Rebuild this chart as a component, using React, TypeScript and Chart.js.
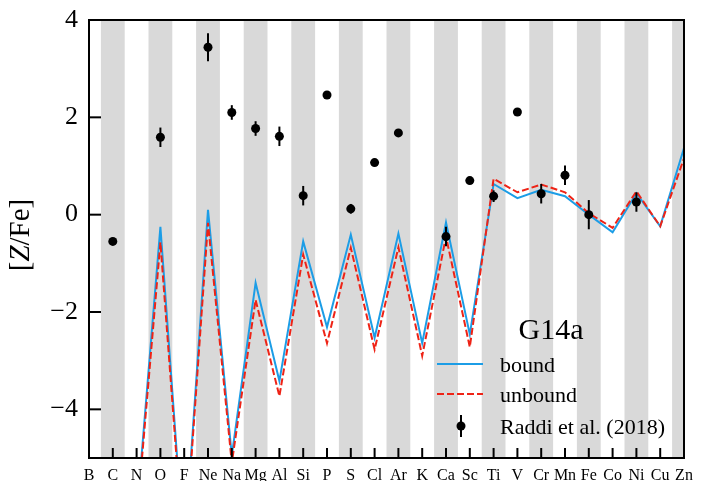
import React, { useEffect, useRef } from "react";
import { Chart, registerables } from "chart.js";

Chart.register(...registerables);

const elements = ["B", "C", "N", "O", "F", "Ne", "Na", "Mg", "Al", "Si", "P", "S", "Cl", "Ar", "K", "Ca", "Sc", "Ti", "V", "Cr", "Mn", "Fe", "Co", "Ni", "Cu", "Zn"];

const boundValues = [-8, -7.5, -6.2, -0.25, -7.0, 0.1, -4.95, -1.4, -3.42, -0.55, -2.31, -0.41, -2.53, -0.39, -2.64, -0.16, -2.46, 0.63, 0.34, 0.51, 0.38, 0.0, -0.36, 0.44, -0.24, 1.37];
const unboundValues = [-8, -7.5, -6.3, -0.57, -7.1, -0.17, -5.1, -1.75, -3.73, -0.82, -2.64, -0.68, -2.77, -0.67, -2.9, -0.45, -2.72, 0.74, 0.46, 0.62, 0.46, 0.03, -0.27, 0.48, -0.24, 1.16];

// Raddi et al. (2018): element index, value, error
const obsIndex = [1, 3, 5, 6, 7, 8, 9, 10, 11, 12, 13, 15, 16, 17, 18, 19, 20, 21, 23];
const obsValues = [-0.55, 1.59, 3.44, 2.1, 1.77, 1.61, 0.39, 2.46, 0.12, 1.07, 1.68, -0.45, 0.7, 0.38, 2.11, 0.43, 0.81, 0.0, 0.26];
const obsErrors = [0, 0.2, 0.29, 0.15, 0.15, 0.2, 0.2, 0, 0.1, 0, 0, 0.2, 0, 0.12, 0, 0.2, 0.2, 0.3, 0.2];

const yTicks = [-4, -2, 0, 2, 4];

const BLUE = "#1c9de6";
const RED = "#ee2316";
const GRAY = "#d9d9d9";
const SERIF = "'Liberation Serif', 'DejaVu Serif', serif";

const decorPlugin = {
  id: "decor",
  beforeDatasetsDraw(chart: any) {
    const { ctx, chartArea: a, scales } = chart;
    const xs = scales.x;
    ctx.save();
    ctx.fillStyle = GRAY;
    for (let i = 1; i < elements.length; i += 2) {
      const l = Math.max(a.left, xs.getPixelForValue(i - 0.5));
      const r = Math.min(a.right, xs.getPixelForValue(i + 0.5));
      ctx.fillRect(l, a.top, r - l, a.bottom - a.top);
    }
    ctx.restore();
  },
  afterDatasetsDraw(chart: any) {
    const { ctx, chartArea: a, scales } = chart;
    const xs = scales.x;
    const ys = scales.y;
    ctx.save();
    ctx.strokeStyle = "#000";
    ctx.lineWidth = 2;
    for (let k = 0; k < obsIndex.length; k++) {
      const e = obsErrors[k];
      if (!e) continue;
      const px = xs.getPixelForValue(obsIndex[k]);
      ctx.beginPath();
      ctx.moveTo(px, ys.getPixelForValue(obsValues[k] - e));
      ctx.lineTo(px, ys.getPixelForValue(obsValues[k] + e));
      ctx.stroke();
    }
    ctx.lineWidth = 2;
    ctx.strokeRect(a.left, a.top, a.right - a.left, a.bottom - a.top);
    for (let i = 0; i < elements.length; i++) {
      const px = xs.getPixelForValue(i);
      ctx.beginPath();
      ctx.moveTo(px, a.bottom);
      ctx.lineTo(px, a.bottom - 10);
      ctx.stroke();
    }
    for (const v of yTicks) {
      const py = ys.getPixelForValue(v);
      ctx.beginPath();
      ctx.moveTo(a.left, py);
      ctx.lineTo(a.left + 12, py);
      ctx.stroke();
    }
    // y title [Z/Fe]
    ctx.save();
    ctx.translate(29, 235);
    ctx.rotate(-Math.PI / 2);
    ctx.fillStyle = "#000";
    ctx.textBaseline = "alphabetic";
    const parts: [string, string][] = [["[", ""], ["Z", "italic "], ["/Fe]", ""]];
    let total = 0;
    const widths: number[] = [];
    for (const [t, st] of parts) {
      ctx.font = `${st}29px ${SERIF}`;
      const w = ctx.measureText(t).width;
      widths.push(w);
      total += w;
    }
    let cx = -total / 2;
    parts.forEach(([t, st], idx) => {
      ctx.font = `${st}29px ${SERIF}`;
      ctx.fillText(t, cx, 0);
      cx += widths[idx];
    });
    ctx.restore();
    // legend
    ctx.fillStyle = "#000";
    ctx.font = `30px ${SERIF}`;
    ctx.textAlign = "center";
    ctx.fillText("G14a", 551, 339);
    ctx.textAlign = "left";
    ctx.font = `22px ${SERIF}`;
    ctx.lineWidth = 2;
    ctx.strokeStyle = BLUE;
    ctx.beginPath();
    ctx.moveTo(437, 364);
    ctx.lineTo(483, 364);
    ctx.stroke();
    ctx.strokeStyle = RED;
    ctx.setLineDash([7, 3]);
    ctx.beginPath();
    ctx.moveTo(437, 394);
    ctx.lineTo(483, 394);
    ctx.stroke();
    ctx.setLineDash([]);
    ctx.strokeStyle = "#000";
    ctx.beginPath();
    ctx.moveTo(461, 415);
    ctx.lineTo(461, 437);
    ctx.stroke();
    ctx.beginPath();
    ctx.arc(461, 426, 4.5, 0, Math.PI * 2);
    ctx.fill();
    ctx.fillText("bound", 500, 372);
    ctx.fillText("unbound", 500, 402);
    ctx.fillText("Raddi et al. (2018)", 500, 434);
    ctx.restore();
  },
};

export default function App() {
  const ref = useRef<HTMLCanvasElement>(null);
  useEffect(() => {
    if (!ref.current) return;
    const chart = new Chart(ref.current, {
      type: "line",
      data: {
        datasets: [
          {
            label: "Raddi et al. (2018)",
            data: obsIndex.map((i, k) => ({ x: i, y: obsValues[k] })),
            showLine: false,
            pointRadius: 4.5,
            pointBackgroundColor: "#000",
            pointBorderColor: "#000",
            pointBorderWidth: 0,
          },
          {
            label: "unbound",
            data: unboundValues.map((v, i) => ({ x: i, y: v })),
            borderColor: RED,
            borderWidth: 2,
            borderDash: [7, 3],
            pointRadius: 0,
            tension: 0,
            fill: false,
          },
          {
            label: "bound",
            data: boundValues.map((v, i) => ({ x: i, y: v })),
            borderColor: BLUE,
            borderWidth: 2,
            pointRadius: 0,
            tension: 0,
            fill: false,
          },
        ],
      },
      options: {
        animation: false,
        responsive: false,
        events: [],
        layout: { padding: { left: 0, top: 20, right: 19, bottom: 0 } },
        plugins: { legend: { display: false }, tooltip: { enabled: false } },
        scales: {
          x: {
            type: "linear",
            min: 0,
            max: elements.length - 1,
            grid: { display: false, drawTicks: false },
            border: { display: false },
            afterBuildTicks: (s: any) => {
              s.ticks = elements.map((_, i) => ({ value: i }));
            },
            afterFit: (s: any) => {
              s.height = 23;
            },
            ticks: {
              autoSkip: false,
              maxRotation: 0,
              padding: 10,
              color: "#000",
              font: { family: SERIF, size: 16, lineHeight: 1 },
              callback: (v: any) => elements[Math.round(v)] ?? "",
            },
          },
          y: {
            type: "linear",
            min: -5,
            max: 4,
            grid: { display: false, drawTicks: false },
            border: { display: false },
            afterBuildTicks: (s: any) => {
              s.ticks = yTicks.map((v) => ({ value: v }));
            },
            afterFit: (s: any) => {
              s.width = 89;
            },
            ticks: {
              padding: 11,
              color: "#000",
              font: { family: SERIF, size: 26, lineHeight: 0.6 },
              callback: (v: any) => (v < 0 ? "\u2212" + Math.abs(v) : String(v)),
            },
          },
        },
      },
      plugins: [decorPlugin],
    });
    return () => chart.destroy();
  }, []);
  return (
    <div style={{ position: "fixed", left: 0, top: 0, width: 703, height: 481, background: "#fff" }}>
      <canvas ref={ref} width={703} height={481} />
    </div>
  );
}
